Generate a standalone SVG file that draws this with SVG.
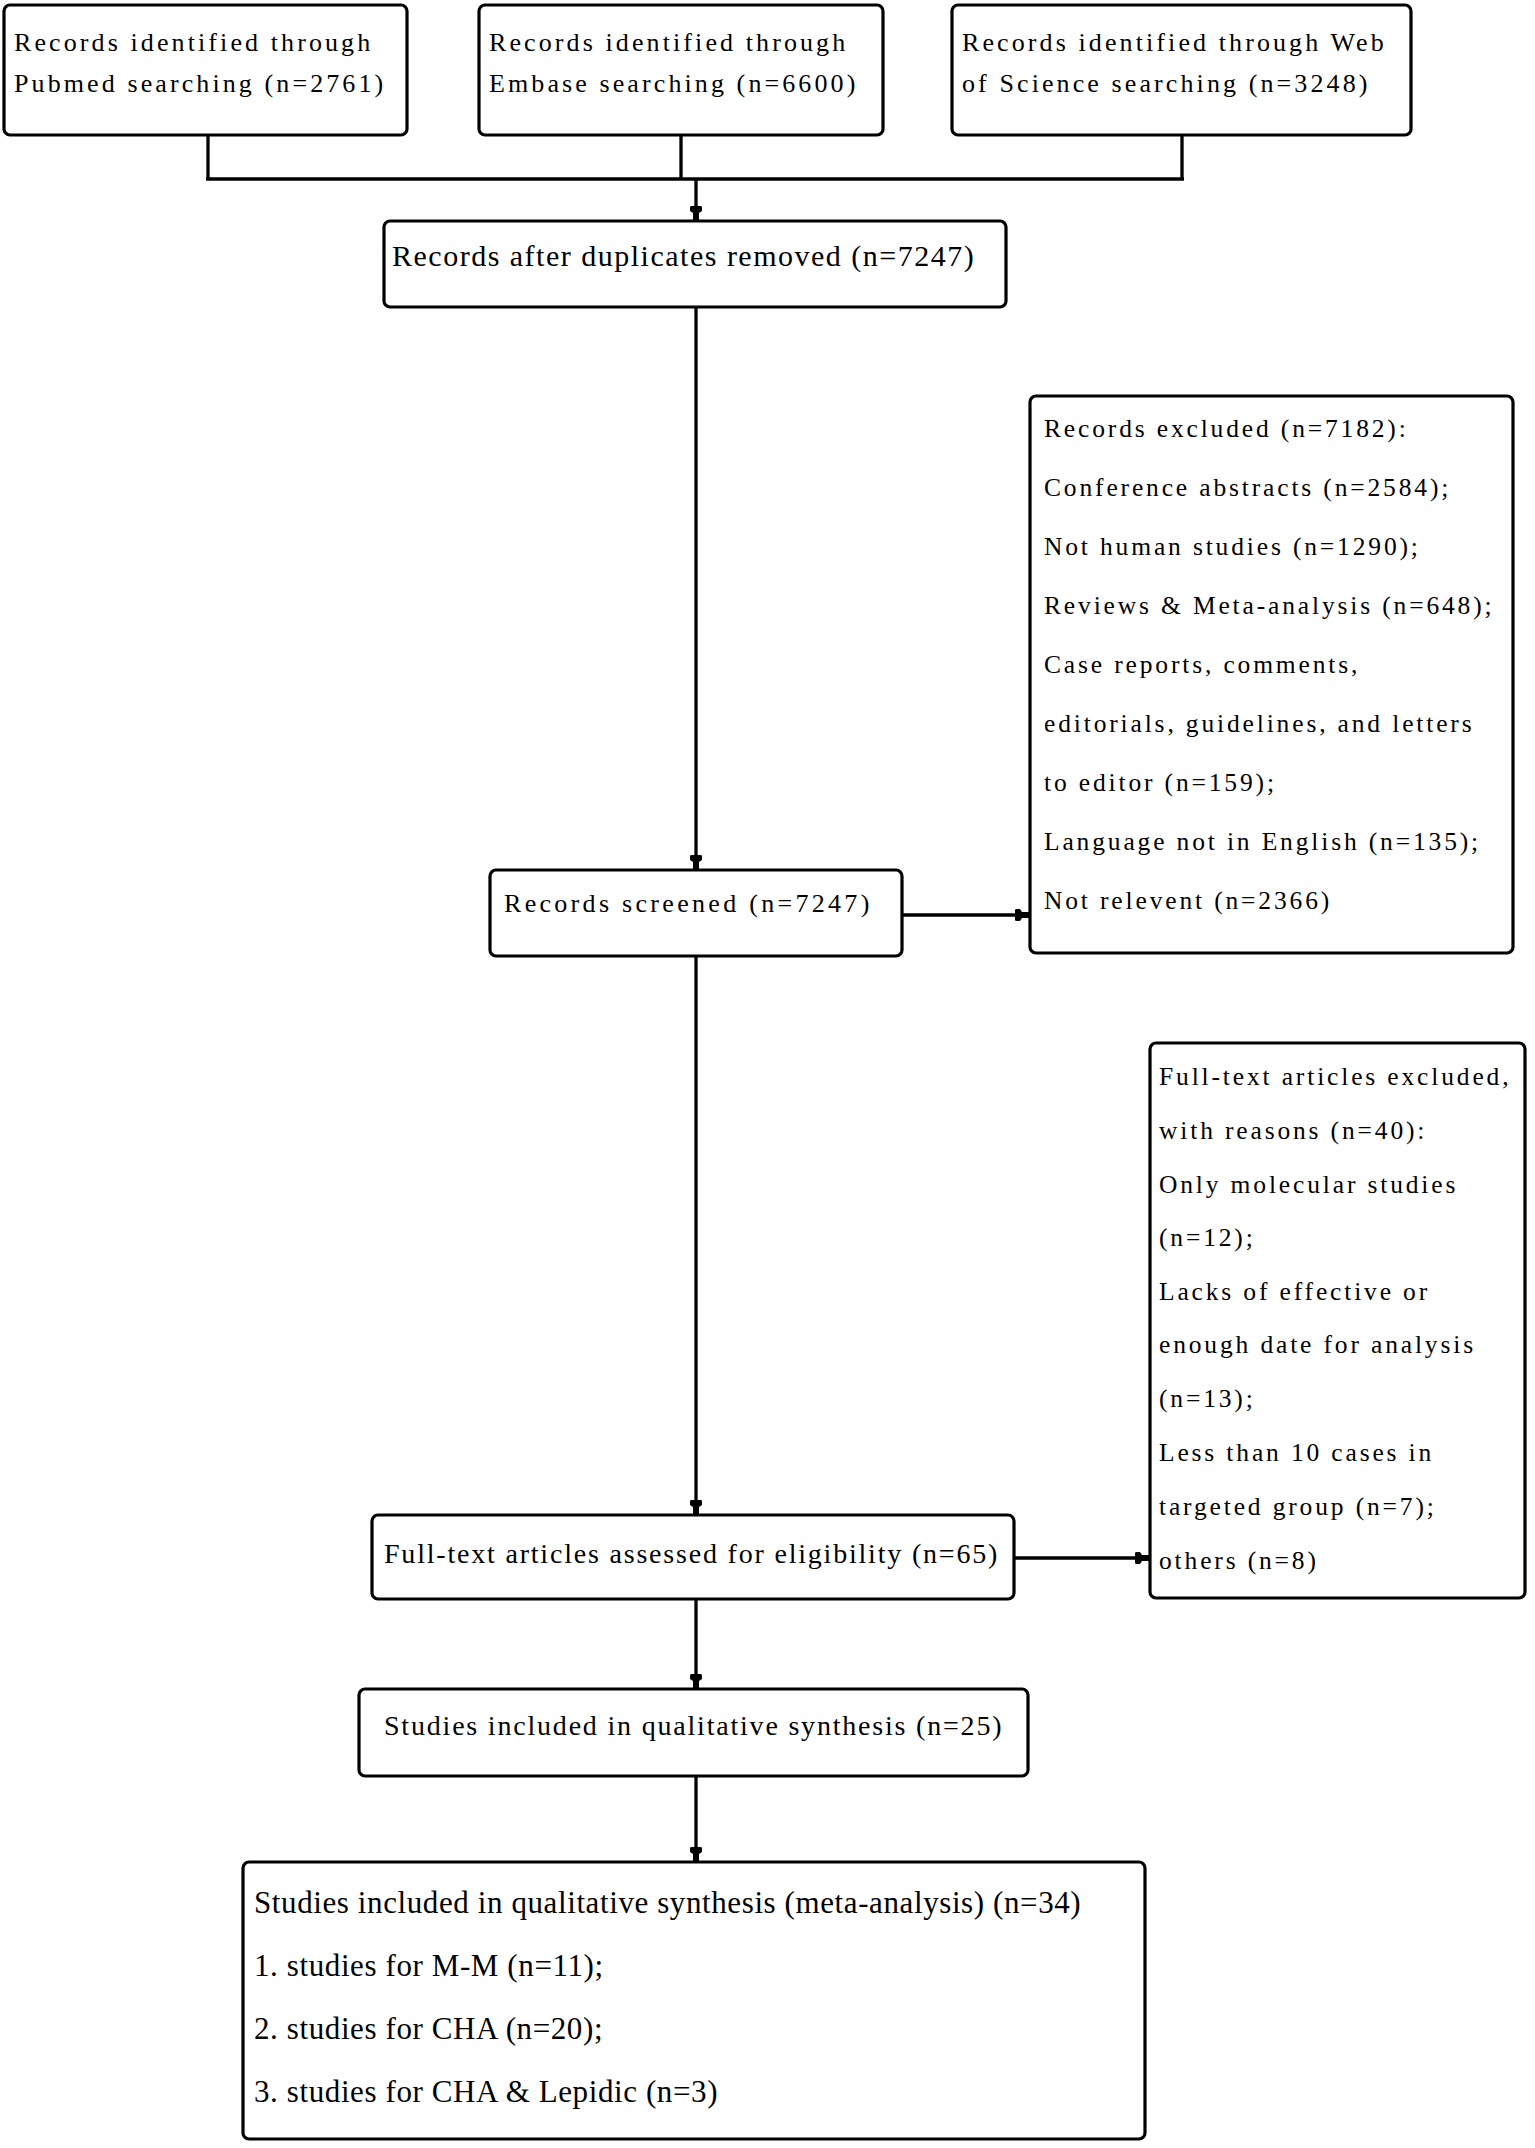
<svg xmlns="http://www.w3.org/2000/svg" width="1535" height="2148" viewBox="0 0 1535 2148">
<defs>
<marker id="ah" markerUnits="userSpaceOnUse" markerWidth="16" markerHeight="14" viewBox="0 -7 16 14" refX="15" refY="0" orient="auto">
<path d="M0,-5 Q0,-6 2,-6 L5,-6 L7,-3 L15,-3 L15,3 L7,3 L5,6 L2,6 Q0,6 0,5 Z" fill="#000"/>
</marker>
</defs>
<style>
.box{fill:#fff;stroke:#000;stroke-width:3.2}
.t{font-family:"Liberation Serif","Times New Roman",serif;fill:#000}
.s26{font-size:26px;letter-spacing:3.1px}
.s5{font-size:26px;letter-spacing:3.3px}
.s25{font-size:25.5px;letter-spacing:2.85px}
.s30{font-size:30px;letter-spacing:1.5px}
.s28{font-size:28px;letter-spacing:1.8px}
.s31{font-size:31px;letter-spacing:0.6px}
.c{fill:none;stroke:#000;stroke-width:3.3}
.h{fill:none;stroke:#000;stroke-width:3.6}
</style>
<rect width="1535" height="2148" fill="#fff"/>
<g id="connectors">
<path class="c" d="M208,135 V179 M681,135 V179 M1182,135 V179"/>
<path class="h" d="M206,179 H1184"/>
<path class="c" d="M696,179 V221" marker-end="url(#ah)"/>
<path class="c" d="M696,307 V870" marker-end="url(#ah)"/>
<path class="h" d="M902,915 H1030" marker-end="url(#ah)"/>
<path class="c" d="M696,956 V1515" marker-end="url(#ah)"/>
<path class="h" d="M1014,1558 H1150" marker-end="url(#ah)"/>
<path class="c" d="M696,1599 V1689" marker-end="url(#ah)"/>
<path class="c" d="M696,1776 V1862" marker-end="url(#ah)"/>
</g>
<g id="pubmed">
<rect class="box" x="4" y="5" width="403" height="130" rx="6"/>
<text class="t s26" x="14" y="51">Records identified through</text>
<text class="t s26" x="14" y="92">Pubmed searching (n=2761)</text>
</g>
<g id="embase">
<rect class="box" x="479" y="5" width="404" height="130" rx="6"/>
<text class="t s26" x="489" y="51">Records identified through</text>
<text class="t s26" x="489" y="92">Embase searching (n=6600)</text>
</g>
<g id="wos">
<rect class="box" x="952" y="5" width="459" height="130" rx="6"/>
<text class="t s26" x="962" y="51">Records identified through Web</text>
<text class="t s26" x="962" y="92">of Science searching (n=3248)</text>
</g>
<g id="dedup">
<rect class="box" x="384" y="221" width="622" height="86" rx="6"/>
<text class="t s30" x="392" y="266">Records after duplicates removed (n=7247)</text>
</g>
<g id="screened">
<rect class="box" x="490" y="870" width="412" height="86" rx="6"/>
<text class="t s5" x="504" y="912">Records screened (n=7247)</text>
</g>
<g id="excluded">
<rect class="box" x="1030" y="396" width="483" height="557" rx="6"/>
<text class="t s25" x="1044" y="437">Records excluded (n=7182):</text>
<text class="t s25" x="1044" y="496">Conference abstracts (n=2584);</text>
<text class="t s25" x="1044" y="555">Not human studies (n=1290);</text>
<text class="t s25" x="1044" y="614">Reviews &amp; Meta-analysis (n=648);</text>
<text class="t s25" x="1044" y="673">Case reports, comments,</text>
<text class="t s25" x="1044" y="732">editorials, guidelines, and letters</text>
<text class="t s25" x="1044" y="791">to editor (n=159);</text>
<text class="t s25" x="1044" y="850">Language not in English (n=135);</text>
<text class="t s25" x="1044" y="909">Not relevent (n=2366)</text>
</g>
<g id="fulltext-excluded">
<rect class="box" x="1150" y="1043" width="375" height="555" rx="6"/>
<text class="t s25" x="1159" y="1085">Full-text articles excluded,</text>
<text class="t s25" x="1159" y="1139">with reasons (n=40):</text>
<text class="t s25" x="1159" y="1193">Only molecular studies</text>
<text class="t s25" x="1159" y="1246">(n=12);</text>
<text class="t s25" x="1159" y="1300">Lacks of effective or</text>
<text class="t s25" x="1159" y="1353">enough date for analysis</text>
<text class="t s25" x="1159" y="1407">(n=13);</text>
<text class="t s25" x="1159" y="1461">Less than 10 cases in</text>
<text class="t s25" x="1159" y="1515">targeted group (n=7);</text>
<text class="t s25" x="1159" y="1569">others (n=8)</text>
</g>
<g id="eligibility">
<rect class="box" x="372" y="1515" width="642" height="84" rx="6"/>
<text class="t s28" x="384" y="1563">Full-text articles assessed for eligibility (n=65)</text>
</g>
<g id="qualitative">
<rect class="box" x="359" y="1689" width="669" height="87" rx="6"/>
<text class="t s28" x="384" y="1735">Studies included in qualitative synthesis (n=25)</text>
</g>
<g id="meta">
<rect class="box" x="243" y="1862" width="902" height="277" rx="6"/>
<text class="t s31" x="254" y="1913">Studies included in qualitative synthesis (meta-analysis) (n=34)</text>
<text class="t s31" x="254" y="1976">1. studies for M-M (n=11);</text>
<text class="t s31" x="254" y="2039">2. studies for CHA (n=20);</text>
<text class="t s31" x="254" y="2102">3. studies for CHA &amp; Lepidic (n=3)</text>
</g>
</svg>
